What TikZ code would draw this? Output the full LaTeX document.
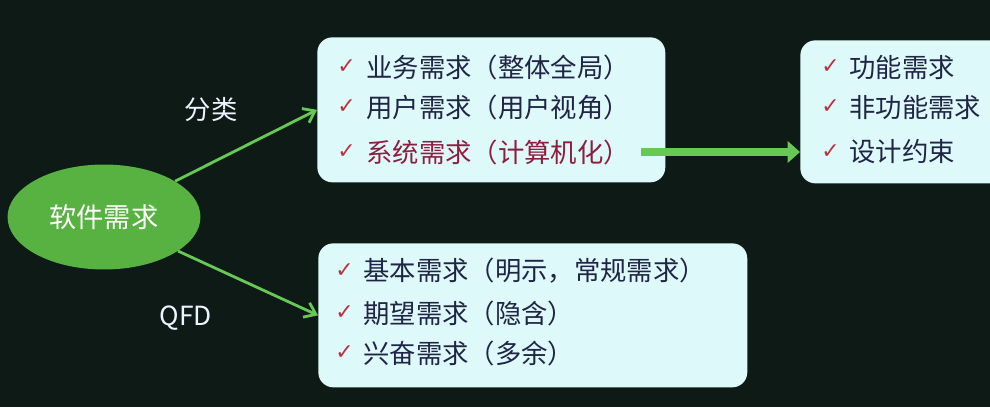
\documentclass[tikz,border=0pt]{standalone}
\usepackage{fontspec}
\setmainfont{Noto Sans CJK SC}
\newfontfamily\symfont{DejaVu Sans}
\usetikzlibrary{shapes.geometric,arrows.meta}

\definecolor{bgcol}{RGB}{13,26,22}
\definecolor{boxcol}{RGB}{222,249,249}
\definecolor{ellcol}{RGB}{88,178,66}
\definecolor{linkcol}{RGB}{104,200,84}
\definecolor{itemcol}{RGB}{32,36,70}
\definecolor{syscol}{RGB}{140,30,62}
\definecolor{tickcol}{RGB}{185,52,62}
\definecolor{labcol}{RGB}{238,244,255}

\begin{document}
\begin{tikzpicture}[x=0.02cm, y=-0.02cm,
	box/.style={fill=boxcol, rounded corners=8.5pt, inner sep=0pt, anchor=north west},
	item/.style={anchor=west, inner sep=0pt, text=itemcol, font=\fontsize{15}{17}\selectfont},
	tick/.style={anchor=west, inner sep=0pt, text=tickcol, font=\symfont\fontsize{12.5}{14}\selectfont},
	link/.style={draw=linkcol, line width=1.6pt, -{Straight Barb[length=6pt,width=9pt]}},
	lab/.style={text=labcol, font=\fontsize{15}{17}\selectfont}]
	% Background
	\useasboundingbox (0,0) rectangle (990,407);
	\fill[bgcol] (0,0) rectangle (990,407);

	% Root
	\node[ellipse, fill=ellcol, minimum width=3.86cm, minimum height=2.1cm,
		text=white, font=\fontsize{15.5}{17}\selectfont] (root) at (104,217) {软件需求};

	% Boxes
	\node[box, minimum width=6.96cm, minimum height=2.9cm] (cls) at (317,37) {};
	\node[box, minimum width=4.4cm, minimum height=2.86cm] (sys) at (800,40) {};
	\node[box, minimum width=8.58cm, minimum height=2.88cm] (qfd) at (318,243) {};

	% Classification items
	\node[tick] (c1t) at (337,67) {✓};
	\node[item] (c1) at (366,67) {业务需求（整体全局）};
	\node[tick] (c2t) at (337,107) {✓};
	\node[item] (c2) at (366,107) {用户需求（用户视角）};
	\node[tick] (c3t) at (337,152) {✓};
	\node[item, text=syscol] (c3) at (366,152) {系统需求（计算机化）};

	% System requirement items
	\node[tick] (s1t) at (821,67) {✓};
	\node[item] (s1) at (849,67) {功能需求};
	\node[tick] (s2t) at (821,107) {✓};
	\node[item] (s2) at (849,107) {非功能需求};
	\node[tick] (s3t) at (821,152) {✓};
	\node[item] (s3) at (849,152) {设计约束};

	% QFD items
	\node[tick] (q1t) at (335,271) {✓};
	\node[item] (q1) at (363,271) {基本需求（明示，常规需求）};
	\node[tick] (q2t) at (335,313) {✓};
	\node[item] (q2) at (363,313) {期望需求（隐含）};
	\node[tick] (q3t) at (335,353) {✓};
	\node[item] (q3) at (363,353) {兴奋需求（多余）};

	% Links
	\draw[link] (root) -- (cls.west);
	\draw[link] (root) -- (qfd.west);
	\node[lab] (clslab) at (211,110) {分类};
	\node[lab] (qfdlab) at (186,318) {QFD};

	% System requirement refinement
	\coordinate (c3end) at ([xshift=6pt]c3.east);
	\draw[draw=linkcol, line width=4pt, -{Triangle[length=7pt,width=12pt]}]
		(c3end) -- (c3end -| sys.west);
\end{tikzpicture}
\end{document}
